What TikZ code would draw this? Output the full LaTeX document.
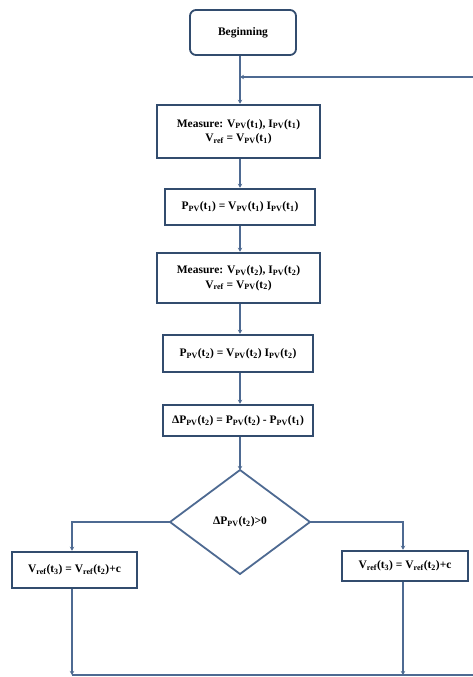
\documentclass[tikz,border=0pt]{standalone}
\usepackage{fontspec}
\setmainfont{Liberation Serif}
\usetikzlibrary{arrows.meta,shapes.geometric}
\definecolor{boxcol}{RGB}{50,76,110}
\definecolor{linecol}{RGB}{78,106,146}
\newcommand\Ss[1]{\textsubscript{#1}}
\tikzset{
  every node/.style={font=\fontsize{11.5}{14.5}\selectfont\bfseries, text=black, inner sep=0pt},
  procbox/.style={draw=boxcol, line width=2.6pt, fill=white, align=center, minimum width=#1},
  startbox/.style={draw=boxcol, line width=1.8pt, rounded corners=6pt, fill=white},
  decision/.style={draw=linecol, line width=1.8pt, fill=white},
  conn/.style={draw=linecol, line width=1.6pt},
  arr/.style={conn, -{Stealth[length=4pt,width=4.5pt]}},
}
\begin{document}
\begin{tikzpicture}[x=1pt,y=-1pt]
\useasboundingbox (0,0) rectangle (473,677);
\clip (0,0) rectangle (473,677);
\node[startbox, minimum width=106pt, minimum height=45pt] (begin) at (243,32.5) {Beginning};
\coordinate (junc) at (240,77);
\node[procbox=163pt, minimum height=53pt] (m1) at (238.5,131.5) {Measure: V\Ss{PV}(t\Ss{1}), I\Ss{PV}(t\Ss{1})\\V\Ss{ref} = V\Ss{PV}(t\Ss{1})};
\node[procbox=150pt, minimum height=36pt] (p1) at (240,207) {P\Ss{PV}(t\Ss{1}) = V\Ss{PV}(t\Ss{1}) I\Ss{PV}(t\Ss{1})};
\node[procbox=163pt, minimum height=50pt] (m2) at (238.5,278) {Measure: V\Ss{PV}(t\Ss{2}), I\Ss{PV}(t\Ss{2})\\V\Ss{ref} = V\Ss{PV}(t\Ss{2})};
\node[procbox=150pt, minimum height=37pt] (p2) at (238,353.5) {P\Ss{PV}(t\Ss{2}) = V\Ss{PV}(t\Ss{2}) I\Ss{PV}(t\Ss{2})};
\node[procbox=150pt, minimum height=31pt] (dp) at (238,420.5) {ΔP\Ss{PV}(t\Ss{2}) = P\Ss{PV}(t\Ss{2}) - P\Ss{PV}(t\Ss{1})};
\coordinate (dtop) at (240,470);
\coordinate (dleft) at (170,522);
\coordinate (dright) at (310,522);
\coordinate (dbot) at (240,574);
\draw[decision] (dtop) -- (dright) -- (dbot) -- (dleft) -- cycle;
\node (dec) at (240,522) {ΔP\Ss{PV}(t\Ss{2})>0};
\node[procbox=125pt, minimum height=36pt] (left) at (74.5,570) {V\Ss{ref}(t\Ss{3}) = V\Ss{ref}(t\Ss{2})+c};
\node[procbox=126pt, minimum height=30pt] (right) at (405,566) {V\Ss{ref}(t\Ss{3}) = V\Ss{ref}(t\Ss{2})+c};
\coordinate (bl) at (72,675);
\coordinate (br) at (403,675);
\coordinate (corner1) at (490,675);
\coordinate (corner2) at (490,77);
% connectors
\draw[arr] (begin.south -| junc) -- (m1.north -| junc);
\draw[arr] (m1.south -| junc) -- (p1.north -| junc);
\draw[arr] (p1.south -| junc) -- (m2.north -| junc);
\draw[arr] (m2.south -| junc) -- (p2.north -| junc);
\draw[arr] (p2.south -| junc) -- (dp.north -| junc);
\draw[arr] (dp.south -| junc) -- (dtop);
\draw[arr] (dleft) -- (dleft -| bl) -- (left.north -| bl);
\draw[arr] (dright) -- (dright -| br) -- (right.north -| br);
\draw[arr] (left.south -| bl) -- (bl);
\draw[arr] (right.south -| br) -- (br);
\draw[arr] (bl) -- (corner1) -- (corner2) -- (junc);
\end{tikzpicture}
\end{document}
